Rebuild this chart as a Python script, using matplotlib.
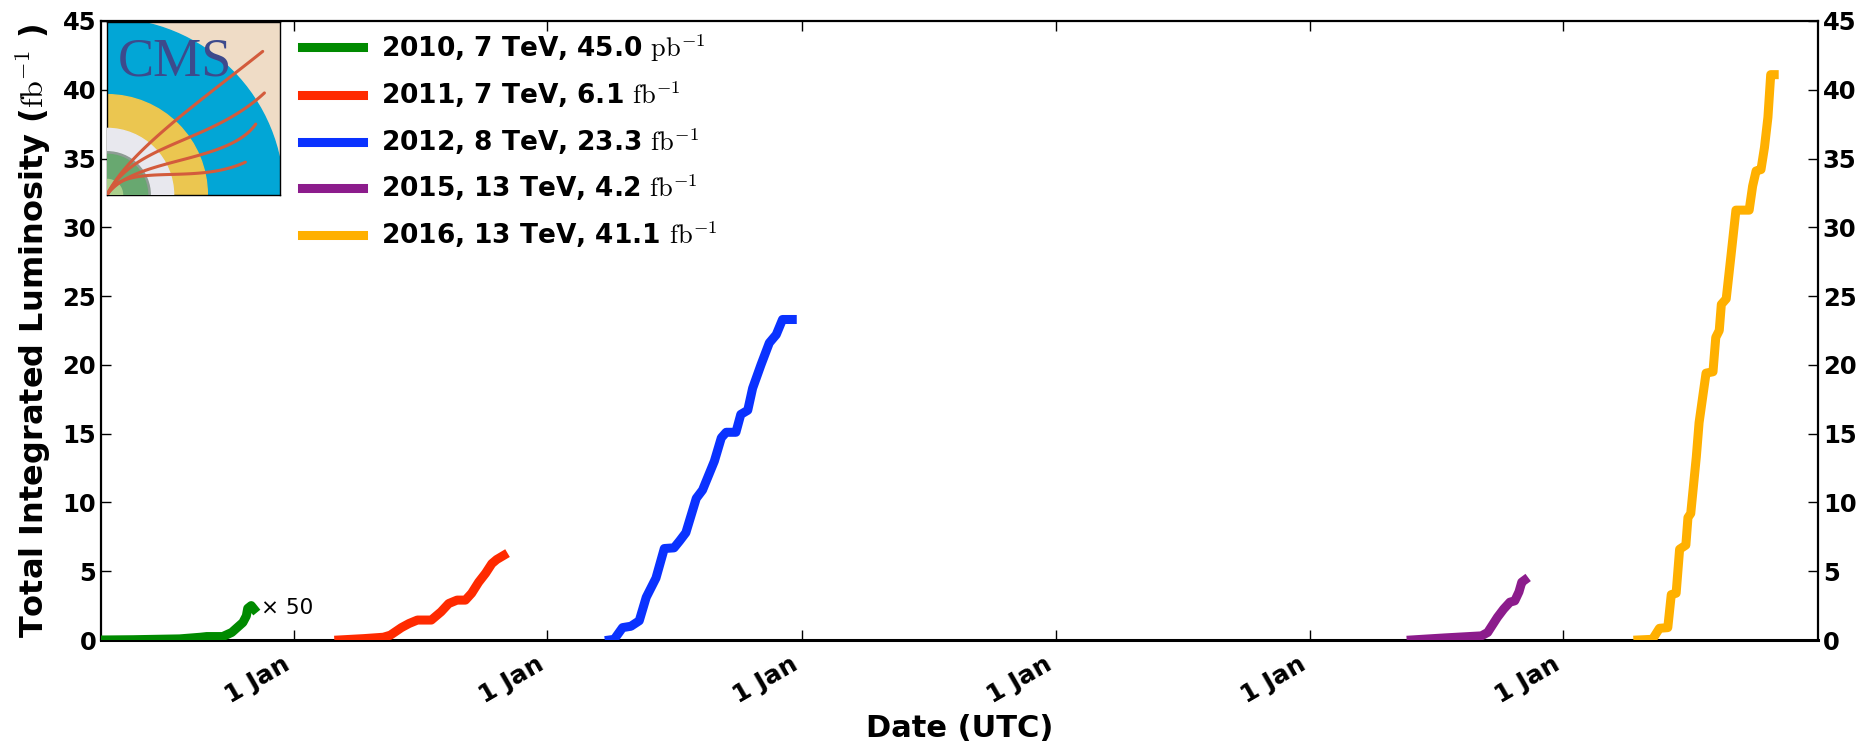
import matplotlib
matplotlib.use('Agg')
import matplotlib.pyplot as plt
import numpy as np
import pandas as pd
from matplotlib.patches import Wedge, Rectangle

# ---------------- data ----------------
dates_2010 = ['2010-03-30', '2010-05-15', '2010-07-21', '2010-08-20', '2010-08-29',
              '2010-09-21', '2010-10-04', '2010-10-20', '2010-10-25', '2010-10-27',
              '2010-11-01', '2010-11-05']
lumi_2010_x50 = [0.0, 0.02, 0.08, 0.2, 0.25, 0.25, 0.55, 1.27, 1.75, 2.3, 2.5, 2.25]

dates_2011 = ['2011-03-07', '2011-04-12', '2011-05-10', '2011-05-20', '2011-06-05',
              '2011-06-16', '2011-06-28', '2011-07-18', '2011-08-01', '2011-08-12',
              '2011-08-24', '2011-09-05', '2011-09-14', '2011-09-24', '2011-10-04',
              '2011-10-13', '2011-10-20', '2011-10-30']
lumi_2011 = [0.0, 0.1, 0.2, 0.35, 0.9, 1.2, 1.45, 1.45, 2.05, 2.65, 2.9, 2.9, 3.4,
             4.2, 4.85, 5.55, 5.85, 6.15]

dates_2012 = ['2012-03-30', '2012-04-06', '2012-04-18', '2012-04-30', '2012-05-12',
              '2012-05-22', '2012-06-05', '2012-06-17', '2012-07-01', '2012-07-09',
              '2012-07-18', '2012-08-02', '2012-08-11', '2012-08-28', '2012-09-07',
              '2012-09-14', '2012-09-28', '2012-10-05', '2012-10-15', '2012-10-22',
              '2012-11-03', '2012-11-15', '2012-11-25', '2012-12-04', '2012-12-18']
lumi_2012 = [0.0, 0.05, 0.9, 1.0, 1.4, 3.1, 4.5, 6.65, 6.7, 7.2, 7.8, 10.3, 10.9, 13.0,
             14.7, 15.1, 15.1, 16.4, 16.7, 18.3, 20.0, 21.6, 22.2, 23.3, 23.3]

dates_2015 = ['2015-05-27', '2015-07-14', '2015-09-05', '2015-09-14', '2015-09-28',
              '2015-10-07', '2015-10-16', '2015-10-23', '2015-10-29', '2015-11-02',
              '2015-11-06']
lumi_2015 = [0.0, 0.15, 0.3, 0.55, 1.65, 2.25, 2.75, 2.85, 3.5, 4.2, 4.35]

dates_2016 = ['2016-04-17', '2016-05-08', '2016-05-18', '2016-05-30', '2016-06-04',
              '2016-06-11', '2016-06-16', '2016-06-25', '2016-06-28', '2016-07-02',
              '2016-07-10', '2016-07-14', '2016-07-24', '2016-08-03', '2016-08-07',
              '2016-08-12', '2016-08-15', '2016-08-22', '2016-08-29', '2016-09-05',
              '2016-09-24', '2016-09-29', '2016-10-04', '2016-10-11', '2016-10-16',
              '2016-10-21', '2016-10-25', '2016-10-30']
lumi_2016 = [0.0, 0.05, 0.85, 0.9, 3.3, 3.4, 6.6, 6.9, 8.9, 9.2, 13.3, 15.8, 19.4, 19.5,
             22.0, 22.5, 24.4, 24.8, 28.0, 31.25, 31.25, 33.0, 34.1, 34.2, 35.8, 38.0,
             41.1, 41.1]

series_labels = ['2010, 7 TeV, 45.0 $\\mathrm{pb}^{-1}$',
                 '2011, 7 TeV, 6.1 $\\mathrm{fb}^{-1}$',
                 '2012, 8 TeV, 23.3 $\\mathrm{fb}^{-1}$',
                 '2015, 13 TeV, 4.2 $\\mathrm{fb}^{-1}$',
                 '2016, 13 TeV, 41.1 $\\mathrm{fb}^{-1}$']
series_colors = ['#008a00', '#ff2a00', '#0a32ff', '#8c1c8c', '#ffb000']

xtick_dates = ['2011-01-01', '2012-01-01', '2013-01-01', '2014-01-01',
               '2015-01-01', '2016-01-01']
xtick_labels = ['1 Jan'] * 6
ytick_values = [0, 5, 10, 15, 20, 25, 30, 35, 40, 45]

# ---------------- style ----------------
plt.rcParams['font.family'] = ['DejaVu Sans']
plt.rcParams['font.weight'] = 'bold'
plt.rcParams['axes.labelweight'] = 'bold'
plt.rcParams['mathtext.fontset'] = 'cm'

W, H = 1871, 745
fig = plt.figure(figsize=(W / 100, H / 100), dpi=100)
ax = fig.add_axes([101 / W, 1 - 640 / H, (1818 - 101) / W, (640 - 21) / H])

all_dates = [dates_2010, dates_2011, dates_2012, dates_2015, dates_2016]
all_vals = [lumi_2010_x50, lumi_2011, lumi_2012, lumi_2015, lumi_2016]
for d, v, c, lab in zip(all_dates, all_vals, series_colors, series_labels):
    ax.plot(pd.to_datetime(d), v, color=c, lw=6.5, label=lab, zorder=3)

ax.set_xlim(pd.Timestamp('2010-03-30'), pd.Timestamp('2017-01-01'))
ax.set_ylim(0, 45)
ax.set_yticks(ytick_values)
ax.set_xticks(pd.to_datetime(xtick_dates))
ax.set_xticklabels(xtick_labels, rotation=30, ha='right')
ax.tick_params(axis='both', direction='in', length=7, width=1, top=True, right=True,
               labelright=True, labelsize=17.5)
ax.tick_params(axis='x', pad=9, labelsize=18)
for s in ax.spines.values():
    s.set_linewidth(1.6)
ax.spines['bottom'].set_linewidth(2.2)

ax.set_xlabel('Date (UTC)', fontsize=22, labelpad=4)
ax.set_ylabel('Total Integrated Luminosity ($\\mathrm{fb}^{-1}$ )', fontsize=23, labelpad=7)

ax.text(pd.Timestamp('2010-11-15'), 2.35, '\u00d7 50', fontsize=15.5, fontweight='normal',
        va='center', ha='left')

leg = ax.legend(loc='upper left', bbox_to_anchor=(302 / W, 1 - 32 / H),
                bbox_transform=fig.transFigure, frameon=False, fontsize=19,
                handlelength=2.3, handletextpad=0.7, labelspacing=0.6,
                borderpad=0, borderaxespad=0)
for h in leg.get_lines():
    h.set_linewidth(6.5)

# ---------------- CMS logo (drawn) ----------------
lg = fig.add_axes([107 / W, 1 - 195 / H, 173 / W, 173 / H])
lg.set_xlim(0, 1)
lg.set_ylim(0, 1)
lg.set_xticks([])
lg.set_yticks([])
for s in lg.spines.values():
    s.set_linewidth(1.0)
lg.add_patch(Rectangle((0, 0), 1, 1, color='#efdcc6', zorder=0))
lg.add_patch(Wedge((0, 0), 1.02, 0, 90, color='#02a6d6', zorder=1))
lg.add_patch(Wedge((0, 0), 0.58, 0, 90, color='#ebc650', zorder=2))
lg.add_patch(Wedge((0, 0), 0.385, 0, 90, color='#e8e8ee', zorder=3))
lg.add_patch(Wedge((0, 0), 0.25, 0, 90, color='#8e9c94', zorder=4))
lg.add_patch(Wedge((0, 0), 0.235, 0, 90, color='#68a870', zorder=5))
lg.add_patch(Wedge((0, 0), 0.09, 0, 90, color='#a9cf8c', zorder=6))


def bez(p):
    p = np.array(p, dtype=float)
    t = np.linspace(0, 1, 60)[:, None]
    return ((1 - t) ** 3 * p[0] + 3 * (1 - t) ** 2 * t * p[1]
            + 3 * (1 - t) * t ** 2 * p[2] + t ** 3 * p[3])


tracks = [
    [(0, 0), (0.12, 0.25), (0.55, 0.55), (0.9, 0.83)],
    [(0, 0), (0.15, 0.3), (0.6, 0.3), (0.91, 0.59)],
    [(0, 0), (0.15, 0.22), (0.7, 0.18), (0.86, 0.41)],
    [(0, 0), (0.1, 0.2), (0.5, 0.05), (0.8, 0.19)],
]
for tr in tracks:
    c = bez(tr)
    lg.plot(c[:, 0], c[:, 1], color='#d35b3c', lw=2.2, zorder=8, solid_capstyle='round')

lg.text(0.06, 0.765, 'CMS', family='Liberation Serif', fontweight='normal', fontsize=39,
        color='#3d4a8c', va='center', ha='left', zorder=9)

fig.savefig('out.png', dpi=100)
